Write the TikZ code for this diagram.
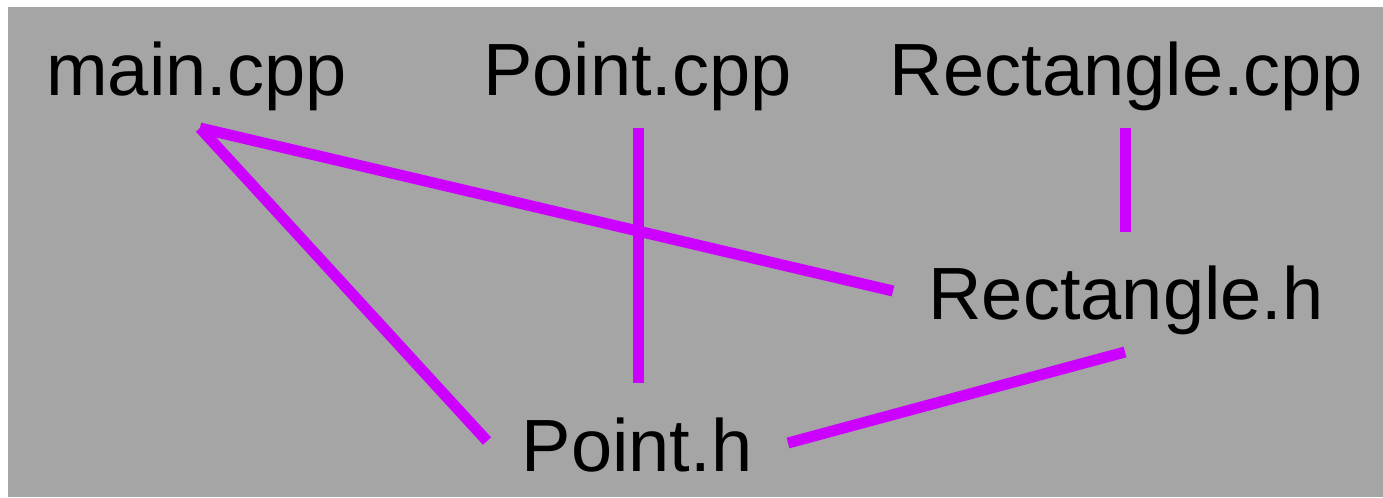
\documentclass[tikz,border=0pt]{standalone}
\usepackage{fontspec}
\setmainfont{Liberation Sans}
\definecolor{bggray}{RGB}{165,165,165}
\definecolor{edgemag}{RGB}{204,0,255}
\begin{document}
\begin{tikzpicture}[x=0.01cm,y=-0.01cm,
  file/.style={inner sep=0pt,anchor=base,font=\fontsize{21.05}{25}\selectfont,text=black},
  dep/.style={draw=edgemag,line width=0.11cm,line cap=butt}]
\fill[white] (0,0) rectangle (1383,497);
\useasboundingbox (0,0) rectangle (1383,497);
\fill[bggray] (8,7) rectangle (1383,497);
\node[file] (main) at (196.5,95) {main.cpp};
\node[file] (pcpp) at (637.5,95) {Point.cpp};
\node[file] (rcpp) at (1126.5,95) {Rectangle.cpp};
\node[file] (rh) at (1126,319) {Rectangle.h};
\node[file] (ph) at (637,471) {Point.h};
\draw[dep] ([shift={(3.5,33)}]main.base) -- ([shift={(-233,-28)}]rh.base);
\draw[dep] ([shift={(3.5,33)}]main.base) -- ([shift={(-150,-30)}]ph.base);
\draw[dep] ([shift={(0.5,33)}]pcpp.base) -- ([shift={(1,-88)}]ph.base);
\draw[dep] ([shift={(-1,33)}]rcpp.base) -- ([shift={(-0.5,-87)}]rh.base);
\draw[dep] ([shift={(-1,33)}]rh.base) -- ([shift={(151,-28)}]ph.base);
\end{tikzpicture}
\end{document}
